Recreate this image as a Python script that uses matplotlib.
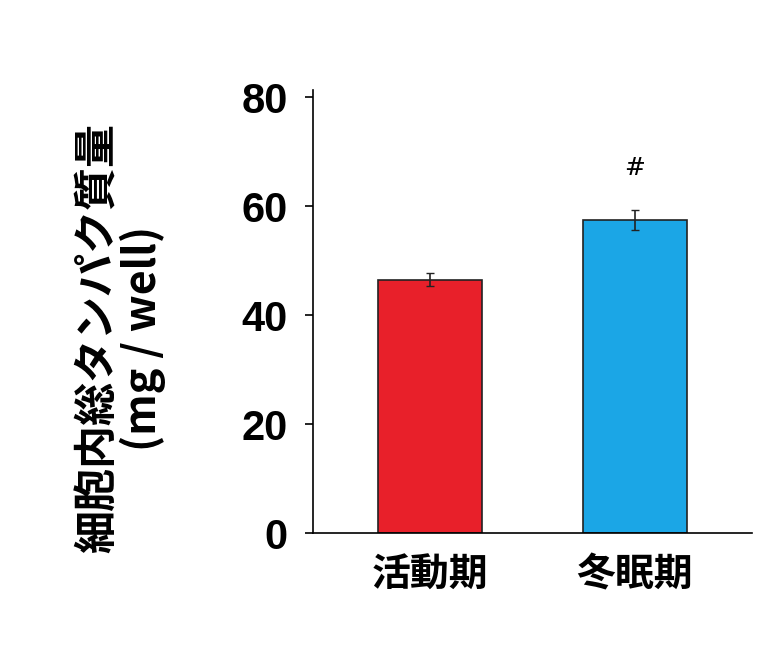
import matplotlib.pyplot as plt

plt.rcParams['font.family'] = ['Noto Sans CJK JP', 'DejaVu Sans']

categories = ['活動期', '冬眠期']
values = [46.5, 57.5]
errors = [1.2, 1.8]
colors = ['#e8202a', '#1ba6e6']

fig = plt.figure(figsize=(7.8, 6.59), dpi=100)
ax = fig.add_axes([0.401, 0.191, 0.563, 0.672])
ax.bar([0, 1], values, width=0.507, color=colors, edgecolor='#222222', linewidth=1.2,
       yerr=errors, capsize=3, error_kw=dict(ecolor='#222222', elinewidth=1.2))
ax.text(1, 67, '#', ha='center', va='center', fontsize=18, family='DejaVu Serif')
ax.set_xlim(-0.57, 1.57)
ax.set_ylim(0, 81.3)
ax.set_yticks([0, 20, 40, 60, 80])
ax.set_xticks([0, 1])
ax.set_xticklabels(categories, fontsize=28, fontweight='bold')
ax.tick_params(axis='x', length=0, pad=16)
ax.tick_params(axis='y', length=6, width=1.2, direction='out', pad=12)
for lab in ax.get_yticklabels():
    lab.set_fontweight('bold')
    lab.set_fontsize(30)
    lab.set_family('Liberation Sans')
ax.spines['top'].set_visible(False)
ax.spines['right'].set_visible(False)
ax.spines['left'].set_linewidth(1.2)
ax.spines['bottom'].set_linewidth(1.2)
ax.set_ylabel('細胞内総タンパク質量\n(mg / well)', fontsize=31, fontweight='bold',
              linespacing=1.0, labelpad=14)
ax.yaxis.set_label_coords(-0.335, 0.44)
fig.savefig('out.png', dpi=100)
